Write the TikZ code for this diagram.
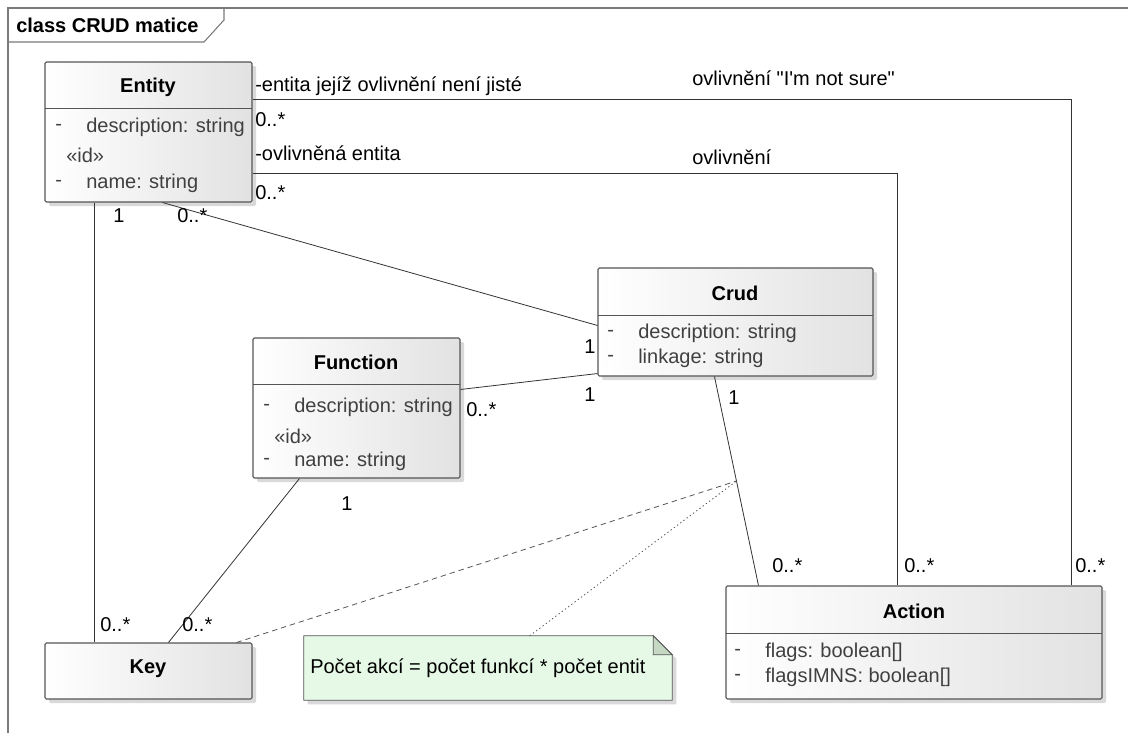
\documentclass[tikz,border=0pt]{standalone}
\usepackage{fontspec}
\setmainfont{Liberation Sans}
\newfontfamily\rawfont{Liberation Sans}
\usetikzlibrary{fit,shadows,calc}
\definecolor{boxline}{HTML}{555555}
\definecolor{boxgray}{HTML}{E2E2E2}
\definecolor{attrgray}{HTML}{404040}
\definecolor{lineclr}{HTML}{333333}
\definecolor{framegray}{HTML}{7A7A7A}
\definecolor{notefill}{HTML}{E6F8E6}
\definecolor{notefold}{HTML}{C4D8C4}
\newcommand\myfs{\fontsize{15}{18}\selectfont}
\begin{document}
\begin{tikzpicture}[x=0.75pt,y=-0.75pt,
  every node/.style={inner sep=0pt, font=\myfs},
  umlbox/.style={draw=boxline, line width=0.8pt, left color=white, right color=boxgray,
    drop shadow={shadow xshift=3pt, shadow yshift=-3pt, fill=black, opacity=0.15},
    rounded corners=1pt, inner sep=0pt},
  sep/.style={draw=boxline, line width=0.7pt},
  lbl/.style={anchor=west},
  attr/.style={anchor=west, text=attrgray},
  ttl/.style={font=\myfs\bfseries},
  assoc/.style={draw=lineclr, line width=0.6pt},
]
\useasboundingbox (0,0) rectangle (1128,733);

% frame
\draw[framegray, line width=0.8pt] (8,733) -- (8,8) -- (1128,8);
\draw[framegray, line width=0.8pt] (8,42) -- (204,42) -- (224,20) -- (224,8);
\node[ttl, anchor=west] (frametitle) at (16,25) {class CRUD matice};

% boxes
\node[umlbox, fit={(45,62) (252,202)}] (entity) {};
\node[umlbox, fit={(598,268) (873,376)}] (crud) {};
\node[umlbox, fit={(253,338) (460,478)}] (function) {};
\node[umlbox, fit={(45,643) (252,699)}] (key) {};
\node[umlbox, fit={(726,586) (1102,699)}] (action) {};

% note
\node[fit={(304,636) (672,700)}] (note) {};
\path[draw=boxline, line width=0.7pt, fill=notefill,
  drop shadow={shadow xshift=3pt, shadow yshift=-3pt, fill=black, opacity=0.15}]
  (note.north west) -- ($(note.north east)+(-19,0)$) -- ($(note.north east)+(0,19)$)
  -- (note.south east) -- (note.south west) -- cycle;
\path[draw=boxline, line width=0.7pt, fill=notefold]
  ($(note.north east)+(-19,0)$) -- ($(note.north east)+(-19,19)$) -- ($(note.north east)+(0,19)$) -- cycle;
\node[anchor=west] (notetext) at (310,668) {Počet akcí = počet funkcí * počet entit};

% Entity contents
\draw[sep] (45,108) -- (252,108);
\node[ttl] (entityt) at (148,87) {Entity};
\node[attr] (e1d) at (55,127) {-};
\node[attr] (e1) at (86,127) {description: string};
\node[attr] (e2s) at (66,155) {«id»};
\node[attr] (e2d) at (55,183) {-};
\node[attr] (e2) at (86,183) {name: string};

% Crud contents
\draw[sep] (598,315) -- (873,315);
\node[ttl] (crudt) at (735,293) {Crud};
\node[attr] (c1d) at (607,333) {-};
\node[attr] (c1) at (638,333) {description: string};
\node[attr] (c2d) at (607,358) {-};
\node[attr] (c2) at (638,358) {linkage: string};

% Function contents
\draw[sep] (253,384) -- (460,384);
\node[ttl] (functiont) at (356,362) {Function};
\node[attr] (f1d) at (263,407) {-};
\node[attr] (f1) at (294,407) {description: string};
\node[attr] (f2s) at (274,436) {«id»};
\node[attr] (f2d) at (263,461) {-};
\node[attr] (f2) at (294,461) {name: string};

% Key
\node[ttl] (keyt) at (148,669) {Key};

% Action contents
\draw[sep] (726,633) -- (1102,633);
\node[ttl] (actiont) at (914,611) {Action};
\node[attr] (a1d) at (734,652) {-};
\node[attr] (a1) at (765,652) {flags: boolean[]};
\node[attr] (a2d) at (734,677) {-};
\node[attr] (a2) at (765,677) {flagsIMNS: boolean[]};

% connectors
\draw[assoc] ($(entity.north east)+(0,38)$) -| ($(action.north east)+(-31,0)$);
\draw[assoc] ($(entity.north east)+(0,112)$) -| ($(action.north west)+(172,0)$);
\draw[assoc] ($(entity.south west)+(50,0)$) -- ($(key.north west)+(50,0)$);
\draw[assoc] ($(entity.south west)+(118,0)$) -- ($(crud.north west)+(0,58)$);
\draw[assoc] ($(function.north east)+(0,52)$) -- ($(crud.south west)+(0,-3)$);
\draw[assoc] ($(function.south west)+(47,0)$) -- ($(key.north west)+(124,0)$);
\coordinate (ca1) at ($(crud.south west)+(117,0)$);
\coordinate (ca2) at ($(action.north west)+(33,0)$);
\coordinate (camid) at ($(ca1)!0.5!(ca2)$);
\draw[assoc] (ca1) -- (ca2);
\draw[draw=boxline, line width=0.6pt, dash pattern=on 4pt off 3pt] ($(key.north east)+(-16,0)$) -- (camid);
\draw[draw=boxline, line width=0.6pt, dash pattern=on 1pt off 2pt] ($(note.north west)+(226,0)$) -- (camid);

% connector labels
\node[lbl] (l1) at (255,86) {-entita jejíž ovlivnění není jisté};
\node[lbl] (l2) at (255,120) {0..*};
\node[lbl] (l3) at (255,153) {-ovlivněná entita};
\node[lbl] (l4) at (255,193) {0..*};
\node[lbl, font=\myfs\rawfont] (l5) at (692,78) {ovlivnění "I'm not sure"};
\node[lbl] (l6) at (692,157) {ovlivnění};
\node[lbl] (l7) at (113,216) {1};
\node[lbl] (l8) at (177,216) {0..*};
\node[lbl] (l9) at (100,625) {0..*};
\node[lbl] (l10) at (182,625) {0..*};
\node[lbl] (l11) at (584,347) {1};
\node[lbl] (l12) at (584,395) {1};
\node[lbl] (l13) at (466,410) {0..*};
\node[lbl] (l14) at (341,504) {1};
\node[lbl] (l15) at (728,398) {1};
\node[lbl] (l16) at (772,566) {0..*};
\node[lbl] (l17) at (904,566) {0..*};
\node[lbl] (l18) at (1075,566) {0..*};
\end{tikzpicture}
\end{document}
